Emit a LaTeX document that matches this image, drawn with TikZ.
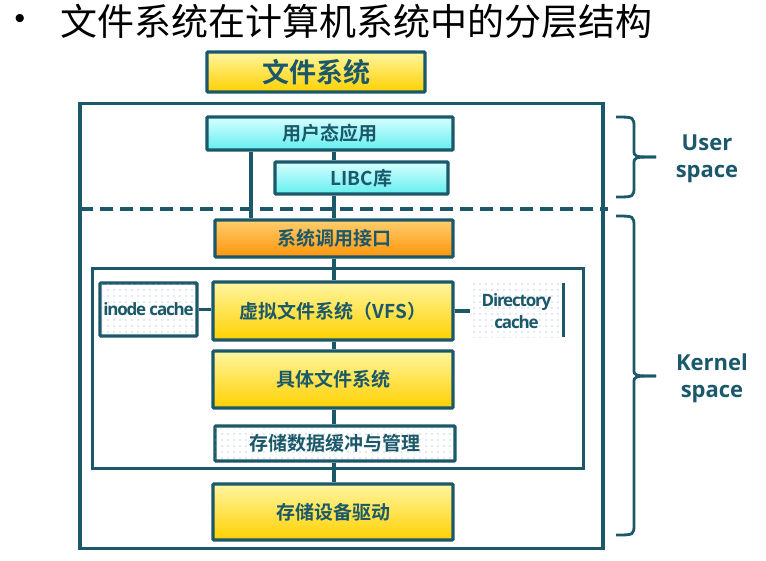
\documentclass[tikz,border=0pt]{standalone}
\usepackage{fontspec}
\setmainfont{Noto Sans CJK SC}[BoldFont={Noto Sans CJK SC Bold}]
\newfontfamily\latb{Open Sans}[BoldFont={Open Sans Bold}]
\newfontfamily\calb{Open Sans}[BoldFont={Open Sans Bold}, LetterSpace=-7]
\newfontfamily\bulf{Liberation Sans}
\usetikzlibrary{patterns.meta}
\definecolor{tealc}{RGB}{26,88,106}
\definecolor{ytop}{RGB}{255,246,160}
\definecolor{ybot}{RGB}{255,208,0}
\definecolor{ctop}{RGB}{215,255,255}
\definecolor{cbot}{RGB}{100,238,240}
\definecolor{otop}{RGB}{255,205,110}
\definecolor{obot}{RGB}{255,150,10}
\definecolor{dotc}{RGB}{140,165,200}
\begin{document}
\begin{tikzpicture}[x=1pt,y=-1pt,
  line/.style={draw=tealc, line width=3.2pt},
  box/.style={draw=tealc, line width=3.2pt, rounded corners=1pt, inner sep=0pt,
    text=tealc, font=\bfseries\fontsize{19}{19}\selectfont},
  ybox/.style={box, top color=ytop, bottom color=ybot},
  cbox/.style={box, top color=ctop, bottom color=cbot},
  obox/.style={box, top color=otop, bottom color=obot},
  dbox/.style={box, fill=white, postaction={pattern={Dots[distance=6pt,radius=0.55pt]}, pattern color=dotc}},
  side/.style={text=tealc, font=\latb\bfseries\fontsize{22}{27}\selectfont, align=center},
  cachetxt/.style={text=tealc, font=\calb\bfseries\fontsize{17}{18}\selectfont, align=center, inner sep=0pt}
]
\useasboundingbox (0,0) rectangle (766,560);

% title
\node[font=\bulf\fontsize{30}{30}\selectfont] (bul) at (20,21) {•};
\node[anchor=west, font=\fontsize{37}{37}\selectfont, inner sep=0pt] (title) at (60,21) {文件系统在计算机系统中的分层结构};

% top box
\node[ybox, minimum width=218pt, minimum height=40pt, font=\bfseries\fontsize{27}{27}\selectfont] (fs0) at (316,72) {文件系统};

% outer frames
\node[draw=tealc, line width=3.2pt, minimum width=523pt, minimum height=445pt, inner sep=0pt] (outer) at (341.5,326) {};
\node[draw=tealc, line width=3pt, minimum width=491pt, minimum height=200pt, inner sep=0pt] (inner) at (337.5,368) {};

% dashed separator
\coordinate (dl) at (80,209);
\coordinate (dr) at (608,209);
\draw[line, dash pattern=on 13pt off 7pt] (dl) -- (dr);

% user space boxes
\node[cbox, minimum width=246pt, minimum height=33pt] (app) at (330,133.5) {用户态应用};
\node[cbox, minimum width=173pt, minimum height=32pt] (libc) at (361.5,178) {LIBC库};

% kernel boxes
\node[obox, minimum width=238pt, minimum height=37pt] (sys) at (334,238.5) {系统调用接口};
\node[ybox, minimum width=240pt, minimum height=58pt] (vfs) at (333,311) {虚拟文件系统（VFS）};
\node[ybox, minimum width=240pt, minimum height=57pt] (cfs) at (333,379.5) {具体文件系统};
\node[dbox, minimum width=240pt, minimum height=35pt] (buf) at (335,443.5) {存储数据缓冲与管理};
\node[ybox, minimum width=240pt, minimum height=56pt] (drv) at (333,512) {存储设备驱动};

% caches
\node[dbox, minimum width=97pt, minimum height=53pt] (inode) at (148.5,309.5) {};
\node[cachetxt] (inodet) at (inode.center) {inode cache};
\node[draw=none, fill=white, postaction={pattern={Dots[distance=6pt,radius=0.55pt]}, pattern color=dotc},
  minimum width=93pt, minimum height=54pt, inner sep=0pt] (dir) at (516.5,310) {};
\draw[line] (dir.north east) -- (dir.south east);
\node[cachetxt, font=\calb\bfseries\fontsize{17}{22}\selectfont] (dirt) at (516.5,311) {Directory\\cache};

% connectors
\draw[line] (app.south -| 251,0) -- (sys.north -| 251,0);
\draw[line] (app.south -| sys.north) -- (libc.north -| sys.north);
\draw[line] (libc.south -| sys.north) -- (sys.north);
\draw[line] (sys.south) -- (vfs.north -| sys.south);
\draw[line] (vfs.south -| sys.south) -- (cfs.north -| sys.south);
\draw[line] (cfs.south -| sys.south) -- (buf.north -| sys.south);
\draw[line] (buf.south -| sys.south) -- (drv.north -| sys.south);
\draw[line] (inode.east) -- (vfs.west |- inode.east);
\draw[line] (vfs.east) -- (dir.west |- vfs.east);

% braces
\coordinate (ub1) at (616,117);
\coordinate (ub2) at (616,197);
\coordinate (utip) at (656,157);
\draw[line, line width=2.8pt] (ub1) .. controls (634,117) .. (634,128) -- (634,150)
  .. controls (634,157) .. (utip);
\draw[line, line width=2.8pt] (ub2) .. controls (634,197) .. (634,186) -- (634,164)
  .. controls (634,157) .. (utip);
\coordinate (kb1) at (616,216);
\coordinate (kb2) at (616,535);
\coordinate (ktip) at (656,376);
\draw[line, line width=2.8pt] (kb1) .. controls (634,216) .. (634,227) -- (634,369)
  .. controls (634,376) .. (ktip);
\draw[line, line width=2.8pt] (kb2) .. controls (634,535) .. (634,524) -- (634,383)
  .. controls (634,376) .. (ktip);

\node[side] (ulab) at (707,159) {User\\space};
\node[side] (klab) at (712,378) {Kernel\\space};
\end{tikzpicture}
\end{document}
